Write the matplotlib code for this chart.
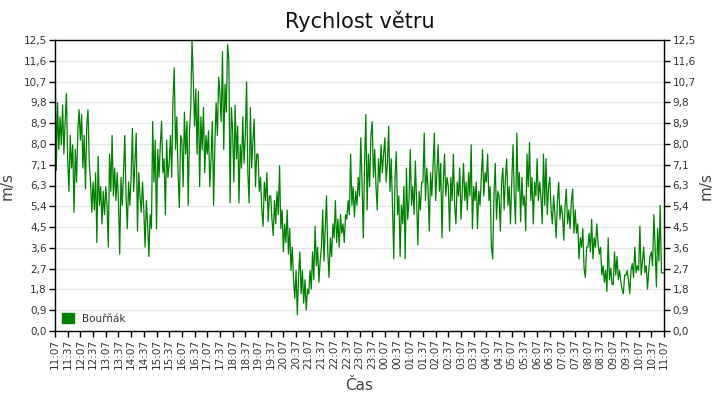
import numpy as np
import matplotlib
matplotlib.use("Agg")
from matplotlib import pyplot as plt
from matplotlib.patches import Patch

# wind speed readings (m/s), one every 3 minutes from 11:07 to 11:07 next day
speed = [
    12.4, 6.9, 9.8, 7.8, 9.2, 8.0, 9.7, 7.6, 9.0, 10.2,
    7.4, 6.0, 8.4, 7.0, 8.0, 5.1, 7.8, 6.4, 8.6, 9.5,
    8.2, 9.3, 7.0, 8.4, 6.1, 8.8, 9.5, 7.2, 6.4, 5.1,
    6.4, 5.2, 6.8, 3.8, 7.5, 5.4, 6.2, 4.6, 6.0, 5.0,
    6.2, 5.4, 3.6, 7.6, 6.0, 8.4, 5.8, 7.0, 5.6, 6.8,
    5.6, 3.3, 6.6, 5.4, 6.8, 8.4, 5.8, 4.4, 6.4, 5.4,
    6.6, 8.7, 6.0, 7.2, 8.5, 4.3, 6.8, 5.8, 5.1, 6.4,
    5.2, 3.6, 5.6, 4.6, 3.2, 5.0, 4.4, 9.0, 6.4, 8.2,
    4.4, 7.8, 6.6, 8.0, 9.0, 6.8, 7.4, 5.0, 8.2, 6.6,
    7.2, 8.4, 6.6, 10.0, 11.3, 7.8, 9.2, 6.8, 5.3, 8.4,
    8.2, 6.2, 9.4, 7.6, 9.0, 5.4, 8.6, 9.6, 12.5, 10.8,
    8.8, 10.4, 7.6, 10.3, 6.2, 9.2, 7.8, 9.6, 6.8, 8.4,
    7.6, 8.6, 6.2, 7.4, 9.0, 5.4, 8.0, 9.8, 8.4, 10.9,
    10.2, 9.0, 12.0, 7.8, 10.6, 9.4, 12.3, 11.7, 5.5, 9.6,
    8.6, 6.4, 9.7, 7.4, 8.8, 5.5, 8.0, 7.0, 9.2, 7.2,
    8.4, 10.7, 6.8, 5.5, 9.6, 7.0, 8.2, 9.1, 6.2, 7.6,
    7.6, 6.0, 6.6, 5.2, 4.5, 6.4, 5.6, 6.8, 4.7, 5.8,
    5.8, 4.8, 4.1, 5.6, 4.6, 6.0, 5.0, 7.1, 4.4, 5.2,
    3.4, 4.6, 3.8, 5.2, 3.3, 4.4, 2.6, 3.6, 2.2, 1.4,
    2.6, 0.7, 2.4, 3.4, 1.6, 2.6, 1.2, 2.2, 0.9, 1.8,
    1.6, 2.6, 1.8, 3.4, 2.2, 4.5, 2.8, 3.6, 2.1, 3.0,
    3.6, 5.2, 3.0, 4.4, 5.8, 3.4, 2.3, 4.0, 3.2, 4.6,
    4.0, 5.6, 3.8, 4.8, 3.6, 5.0, 4.2, 4.6, 3.8, 5.0,
    4.8, 5.6, 5.0, 7.6, 5.4, 6.2, 4.9, 6.0, 5.4, 6.6,
    5.8, 8.3, 6.4, 4.0, 7.2, 9.3, 5.2, 7.6, 6.2, 8.4,
    9.0, 6.6, 7.8, 6.2, 5.2, 7.4, 6.4, 8.0, 6.8, 7.6,
    8.3, 6.4, 7.2, 8.8, 6.0, 7.4, 5.4, 3.1, 6.6, 7.7,
    5.0, 5.8, 3.2, 5.4, 4.6, 6.2, 3.1, 7.0, 4.8, 5.6,
    7.8, 5.4, 6.2, 5.0, 7.3, 5.6, 3.7, 6.0, 5.2, 6.4,
    6.4, 8.5, 5.6, 7.0, 6.2, 4.3, 6.8, 5.8, 7.2, 8.5,
    5.6, 6.8, 8.0, 6.0, 7.2, 4.0, 6.4, 7.6, 5.8, 6.6,
    6.2, 4.3, 6.6, 5.6, 7.6, 5.4, 4.6, 6.4, 5.8, 7.0,
    4.8, 6.0, 7.2, 5.6, 6.4, 5.2, 6.8, 5.8, 8.0, 4.4,
    6.2, 5.6, 6.4, 4.4, 6.0, 5.4, 6.6, 7.8, 5.8, 6.8,
    6.4, 7.6, 5.6, 6.2, 3.6, 3.1, 5.8, 7.2, 4.8, 6.0,
    5.8, 4.3, 6.4, 7.0, 5.2, 6.6, 7.4, 5.4, 6.2, 4.6,
    6.4, 8.0, 5.8, 4.6, 8.5, 6.0, 6.8, 4.7, 6.6, 5.4,
    5.8, 4.3, 7.6, 6.2, 8.1, 5.6, 6.6, 4.6, 6.4, 5.8,
    7.4, 5.6, 6.4, 5.8, 4.6, 7.6, 5.4, 7.4, 5.0, 6.2,
    6.6, 5.2, 4.6, 5.8, 5.0, 4.0, 5.6, 6.4, 4.8, 5.4,
    5.0, 3.9, 5.4, 6.1, 4.6, 5.2, 4.4, 5.6, 6.1, 4.2,
    5.2, 4.2, 4.6, 3.1, 4.0, 3.6, 4.4, 2.7, 2.3, 3.6,
    3.6, 4.2, 3.4, 4.8, 3.1, 4.0, 3.6, 4.6, 3.8, 3.3,
    3.6, 2.4, 2.8, 2.1, 2.6, 1.7, 4.0, 2.2, 2.7, 2.0,
    2.0, 3.4, 2.4, 3.2, 2.2, 2.6, 2.1, 1.8, 1.6, 2.4,
    2.4, 2.6, 2.2, 1.6, 2.6, 2.9, 2.3, 3.6, 2.5, 2.8,
    2.6, 4.5, 2.4, 3.0, 3.6, 2.5, 2.8, 1.8, 2.6, 3.2,
    3.4, 2.8, 5.0, 3.6, 1.9, 4.4, 3.0, 5.4, 2.5, 2.5,
    2.5,
]

time_labels = [
    "11:07", "11:37", "12:07", "12:37", "13:07", "13:37", "14:07", "14:37",
    "15:07", "15:37", "16:07", "16:37", "17:07", "17:37", "18:07", "18:37",
    "19:07", "19:37", "20:07", "20:37", "21:07", "21:37", "22:07", "22:37",
    "23:07", "23:37", "00:07", "00:37", "01:07", "01:37", "02:07", "02:37",
    "03:07", "03:37", "04:07", "04:37", "05:07", "05:37", "06:07", "06:37",
    "07:07", "07:37", "08:07", "08:37", "09:07", "09:37", "10:07", "10:37",
    "11:07",
]

y_ticks = [0.0, 0.9, 1.8, 2.7, 3.6, 4.5, 5.4, 6.3, 7.1, 8.0, 8.9, 9.8, 10.7, 11.6, 12.5]

station = "Bouřňák"
green = "#008000"
text_col = "#333333"
label_col = "#444444"

minutes = np.arange(len(speed)) * 3
tick_pos = np.arange(len(time_labels)) * 30

fig = plt.figure(figsize=(7.2, 4.0), dpi=100)
ax = fig.add_axes([55 / 720, 69 / 400, 609 / 720, 291 / 400])

ax.plot(minutes, speed, color=green, linewidth=0.9)

ax.set_xlim(0, 1440)
ax.set_ylim(0, 12.5)

yt = np.linspace(0, 12.5, 15)
ax.set_yticks(yt)
ax.set_yticklabels([f"{v:.1f}".replace(".", ",") for v in y_ticks])
ax.grid(axis="y", color="#e6e6e6", linewidth=1)
ax.set_axisbelow(True)

ax.set_xticks(tick_pos)
ax.set_xticklabels(time_labels, rotation=90)

ax.tick_params(axis="both", labelsize=7.5, labelcolor=text_col, length=4,
               direction="out", width=1, pad=2)
ax.tick_params(axis="y", right=True, labelright=True)

for s in ax.spines.values():
    s.set_color("black")
    s.set_linewidth(1)

ax.set_ylabel("m/s", fontsize=11, color=label_col, labelpad=6)
fig.text(706 / 720, 1 - 185.5 / 400, "m/s", rotation=90, fontsize=11,
         color=label_col, ha="center", va="center")

ax.set_xlabel("Čas", fontsize=11, color=label_col, labelpad=6)
fig.suptitle("Rychlost větru", x=0.5, y=0.975, fontsize=15, color="#111111")

leg = ax.legend(handles=[Patch(facecolor=green, edgecolor=green, label=station)],
                loc="lower left", frameon=False, fontsize=7.5,
                handlelength=1.15, handleheight=1.15, borderaxespad=0.3,
                handletextpad=0.7)
for t in leg.get_texts():
    t.set_color(text_col)

fig.savefig("out.png", dpi=100)
